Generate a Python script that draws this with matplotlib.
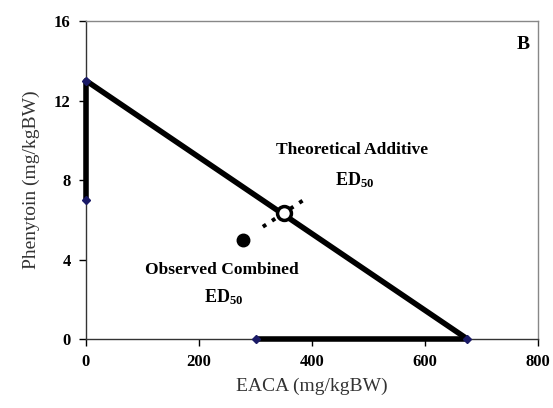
import matplotlib.pyplot as plt

# isobologram data
eaca_axis = [0, 0]
phen_axis = [13, 7]
line_x = [0, 675]
line_y = [13, 0]
base_x = [300, 675]
base_y = [0, 0]

theo_x, theo_y = 350, 6.35
obs_x, obs_y = 278, 5.0
ci_x = [313, 388]
ci_y = [5.65, 7.05]

xticks = [0, 200, 400, 600, 800]
yticks = [0, 4, 8, 12, 16]

plt.rcParams['font.family'] = ['Liberation Serif']
plt.rcParams['mathtext.fontset'] = 'custom'
plt.rcParams['mathtext.rm'] = 'Liberation Serif'
plt.rcParams['mathtext.bf'] = 'Liberation Serif:bold'

fig = plt.figure(figsize=(5.53, 4.08), dpi=100)
ax = fig.add_axes([0.1555, 0.169, 0.8175, 0.7795])

# thick lines sit on the axes, so let them spill past the spines
ax.plot(eaca_axis, phen_axis, color='black', lw=4, solid_capstyle='butt',
        zorder=3, clip_on=False)
ax.plot(line_x, line_y, color='black', lw=4, solid_capstyle='round',
        zorder=3, clip_on=False)
ax.plot(base_x, base_y, color='black', lw=4, solid_capstyle='butt',
        zorder=3, clip_on=False)

# endpoint markers
ax.plot([0, 0, 300, 675], [13, 7, 0, 0], linestyle='none', marker='D',
        markersize=4, color='#1a1a66', zorder=4, clip_on=False)

ax.plot(ci_x, ci_y, color='black', lw=2.8, linestyle=(0, (1, 1.8)), zorder=3)
ax.plot(theo_x, theo_y, marker='o', markersize=10, markerfacecolor='white',
        markeredgecolor='black', markeredgewidth=2.5, linestyle='none', zorder=5)
ax.plot(obs_x, obs_y, marker='o', markersize=9, color='black', linestyle='none', zorder=5)

ax.text(471, 9.5, 'Theoretical Additive', fontsize=12.5, fontweight='bold',
        ha='center', va='center')
ax.text(476, 8.0, r'$\mathbf{ED_{50}}$', fontsize=13,
        ha='center', va='center')
ax.text(241, 3.47, 'Observed Combined', fontsize=12.5, fontweight='bold',
        ha='center', va='center')
ax.text(244, 2.1, r'$\mathbf{ED_{50}}$', fontsize=13,
        ha='center', va='center')
ax.text(773, 14.8, 'B', fontsize=14, fontweight='bold', ha='center', va='center')

ax.set_xlim(0, 800)
ax.set_ylim(0, 16)
ax.set_xticks(xticks)
ax.set_yticks(yticks)
ax.tick_params(direction='out', length=5, width=1, labelsize=12, pad=6)
for lab in ax.get_xticklabels() + ax.get_yticklabels():
    lab.set_fontweight('bold')
for s in ax.spines.values():
    s.set_linewidth(1)
    s.set_color('#333333')
ax.spines['top'].set_color('#888888')
ax.spines['right'].set_color('#888888')

ax.set_xlabel('EACA (mg/kgBW)', fontsize=14, color='#333333', labelpad=5)
ax.set_ylabel('Phenytoin (mg/kgBW)', fontsize=14, color='#333333', labelpad=10)

fig.savefig('out.png', dpi=100)
